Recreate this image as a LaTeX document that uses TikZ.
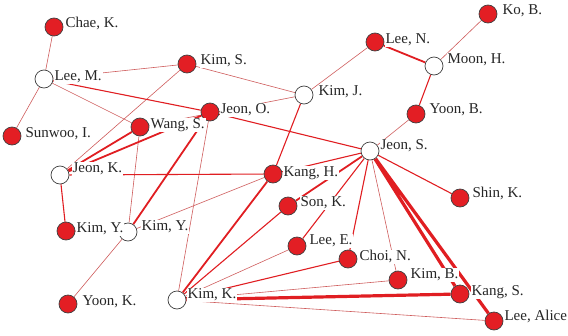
\documentclass[tikz,border=0pt]{standalone}
\usepackage{fontspec}
\setmainfont{Liberation Serif}
\usetikzlibrary{positioning}

\definecolor{nodered}{RGB}{227,30,36}
\definecolor{linkred}{RGB}{224,30,34}
\definecolor{linkpale}{RGB}{206,92,92}

\pgfdeclarelayer{links}
\pgfsetlayers{links,main}

\tikzset{
	actor/.style={circle, draw=black!75, line width=0.7pt, minimum size=18pt, inner sep=0pt},
	hub/.style={actor, fill=nodered},
	open/.style={actor, fill=white},
	tag/.style={fill=white, inner sep=1pt, text=black!85, font=\fontsize{15}{15}\selectfont, text height=10pt, text depth=2.5pt},
	w1/.style={draw=linkpale, line width=0.6pt},
	w2/.style={draw=linkred, line width=1.1pt},
	w3/.style={draw=linkred, line width=1.8pt},
	w4/.style={draw=linkred, line width=3.2pt},
}

\begin{document}
\begin{tikzpicture}[x=1pt, y=-1pt]
	\useasboundingbox (0,0) rectangle (568,335);

	\node[hub] (chaeK) at (54,27) {};
	\node[open] (leeM) at (44,79) {};
	\node[hub] (sunwooI) at (12,136) {};
	\node[hub] (kimS) at (187,64) {};
	\node[hub] (jeonO) at (210,112) {};
	\node[hub] (wangS) at (140,127) {};
	\node[open] (jeonK) at (60,175) {};
	\node[hub] (kimYr) at (66,231) {};
	\node[open] (kimYw) at (128,232) {};
	\node[hub] (yoonK) at (68,304) {};
	\node[open] (kimK) at (177,300) {};
	\node[hub] (kangH) at (273,174) {};
	\node[open] (kimJ) at (304,95) {};
	\node[hub] (leeN) at (375,42) {};
	\node[open] (moonH) at (434,66) {};
	\node[hub] (koB) at (488,14) {};
	\node[hub] (yoonB) at (416,114) {};
	\node[open] (jeonS) at (370,151) {};
	\node[hub] (shinK) at (460,198) {};
	\node[hub] (sonK) at (288,206) {};
	\node[hub] (leeE) at (297,246) {};
	\node[hub] (choiN) at (348,259) {};
	\node[hub] (kimB) at (398,280) {};
	\node[hub] (kangS) at (460,294) {};
	\node[hub] (leeA) at (494,321) {};

	\node[tag, right=1pt of chaeK, yshift=3pt] (chaeK-t) {Chae, K.};
	\node[tag, right=0pt of leeM, yshift=2pt] (leeM-t) {Lee, M.};
	\node[tag, right=3pt of sunwooI, yshift=2pt] (sunwooI-t) {Sunwoo, I.};
	\node[tag, right=3pt of kimS, yshift=3pt] (kimS-t) {Kim, S.};
	\node[tag, right=0pt of jeonO, yshift=2pt] (jeonO-t) {Jeon, O.};
	\node[tag, right=0pt of wangS, yshift=2pt] (wangS-t) {Wang, S.};
	\node[tag, right=2pt of jeonK, yshift=6pt] (jeonK-t) {Jeon, K.};
	\node[tag, right=0pt of kimYr, yshift=2pt] (kimYr-t) {Kim, Y.};
	\node[tag, right=3pt of kimYw, yshift=5pt] (kimYw-t) {Kim, Y.};
	\node[tag, right=4pt of yoonK, yshift=2pt] (yoonK-t) {Yoon, K.};
	\node[tag, right=0pt of kimK, yshift=5pt] (kimK-t) {Kim, K.};
	\node[tag, right=0pt of kangH, yshift=1pt] (kangH-t) {Kang, H.};
	\node[tag, right=4pt of kimJ, yshift=3pt] (kimJ-t) {Kim, J.};
	\node[tag, right=0pt of leeN, yshift=2pt] (leeN-t) {Lee, N.};
	\node[tag, right=3pt of moonH, yshift=6pt] (moonH-t) {Moon, H.};
	\node[tag, right=4pt of koB, yshift=3pt] (koB-t) {Ko, B.};
	\node[tag, right=3pt of yoonB, yshift=4pt] (yoonB-t) {Yoon, B.};
	\node[tag, right=0pt of jeonS, yshift=5pt] (jeonS-t) {Jeon, S.};
	\node[tag, right=2pt of shinK, yshift=4pt] (shinK-t) {Shin, K.};
	\node[tag, right=2pt of sonK, yshift=3pt] (sonK-t) {Son, K.};
	\node[tag, right=2pt of leeE, yshift=5pt] (leeE-t) {Lee, E.};
	\node[tag, right=1pt of choiN, yshift=2pt] (choiN-t) {Choi, N.};
	\node[tag, right=2pt of kimB, yshift=5pt] (kimB-t) {Kim, B.};
	\node[tag, right=1pt of kangS, yshift=2pt] (kangS-t) {Kang, S.};
	\node[tag, right=0pt of leeA, yshift=4pt] (leeA-t) {Lee, Alice};

	\begin{pgfonlayer}{links}
		\draw[w1] (chaeK) -- (leeM) (leeM) -- (sunwooI) (leeM) -- (kimS) (leeM) -- (wangS)
			(kimS) -- (kimJ) (kimS) -- (jeonK) (jeonO) -- (kimK) (kimJ) -- (leeN)
			(moonH) -- (koB) (yoonB) -- (jeonS) (kangH) -- (kimYw) (kimYw) -- (yoonK)
			(wangS) -- (kimYw) (wangS) -- (kimJ) (jeonS) -- (kimB)
			(kimK) -- (leeE) (kimK) -- (kimB) (kimK) -- (leeA);
		\draw[w2] (leeM) -- (jeonO) (jeonK) -- (kimYr) (kimYr) -- (kimYw) (jeonK) -- (kangH)
			(jeonO) -- (jeonS) (kimJ) -- (kangH) (moonH) -- (yoonB)
			(jeonS) -- (kangH) (jeonS) -- (leeE) (jeonS) -- (choiN) (jeonS) -- (shinK)
			(kimK) -- (sonK) (kimK) -- (choiN);
		\draw[w3] (jeonK) -- (wangS) (jeonK) -- (jeonO) (kimYw) -- (jeonO)
			(kimK) -- (kangH) (leeN) -- (moonH) (jeonS) -- (sonK);
		\draw[w4] (kimK) -- (kangS) (jeonS) -- (kangS) (jeonS) -- (leeA);
	\end{pgfonlayer}
\end{tikzpicture}
\end{document}
